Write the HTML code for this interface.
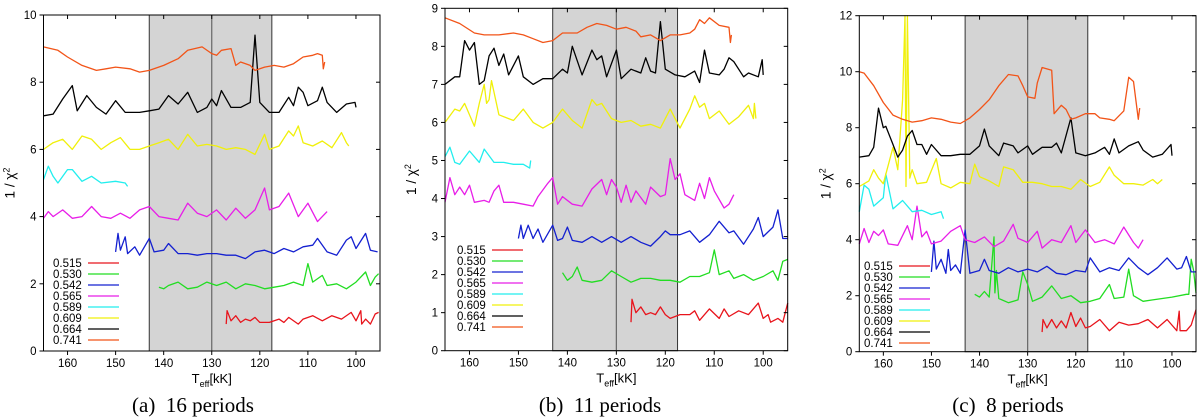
<!DOCTYPE html>
<html><head><meta charset="utf-8">
<style>
html,body{margin:0;padding:0;background:#fff;width:1200px;height:419px;overflow:hidden}
svg{display:block}
text{font-family:"Liberation Sans",sans-serif}
.cap{font-family:"Liberation Serif",serif;font-size:21px;white-space:pre}
</style></head>
<body>
<svg id="fig" width="1200" height="419" viewBox="0 0 1200 419" xmlns="http://www.w3.org/2000/svg"></svg>
<script>
// ---------- data ----------
const masses = ["0.515","0.530","0.542","0.565","0.589","0.609","0.664","0.741"];
const colors = ["#e8141c","#22dd22","#1420d0","#e81ee8","#22eeee","#f0f00a","#000000","#f25418"];
const xTicks = [160,150,140,130,120,110,100];
const shadeRange = [143,117.5];
const midLine = 130;

// panel a (16 periods)
const a515T=[127,126.8,126,125,124,123,122,121,120,118,116,115,114,112,111,109,107,105,103,101,100,99,98.8,98,97,96,95.3];
const a515V=[0.8,1.2,0.9,1.05,0.85,0.95,0.9,1.0,0.85,0.85,0.95,0.85,1.0,0.8,0.95,1.05,0.9,1.05,0.95,1.15,0.9,1.2,0.8,0.95,0.8,1.1,1.15];
const a530T=[141,140,139,137,135,133,131,129,127,125,123,121,119,117,115,113,111,110,109,107,106,104,102,100,98,97,96,95.3];
const a530V=[1.9,1.85,1.95,2.05,1.85,1.9,2.05,1.95,2.05,1.85,2.0,1.95,1.85,1.9,1.95,2.05,1.95,2.6,2.05,2.25,1.95,2.0,1.85,2.05,2.35,1.95,2.2,2.3];
const a542T=[150,149.5,149,148,147.5,146,145,143,142,140,139,137,135,133,131,129,127,125,123,121,119,117,115,113,111,109,108,106,104,102,101,100,98,97,95.5];
const a542V=[2.95,3.5,3.0,3.4,2.9,3.1,2.85,3.35,2.95,3.0,3.2,2.9,2.9,2.85,2.9,2.9,2.85,2.85,2.75,2.95,3.0,2.9,3.05,2.95,3.1,3.15,3.35,2.95,2.85,3.3,3.4,3.05,3.5,3.0,2.95];
const a565T=[165,164,163,161,159,157,155,153,151,149,147,145,143,141,139,137,135,133,131,129,127,125,123,121,119,118,116,114,112,110,108,106];
const a565V=[3.95,4.15,4.0,4.2,3.95,4.0,4.3,4.0,3.95,4.1,3.95,4.2,4.3,4.0,3.95,3.9,4.4,4.1,4.0,4.2,3.9,4.25,3.95,4.2,4.85,4.2,4.3,4.7,4.0,4.4,3.85,4.15];
const a589T=[165,164,163,162,160,159,157,155,153,150,148,147.5];
const a589V=[5.1,5.5,5.2,5.0,5.4,5.4,5.05,5.2,5.0,5.05,5.0,4.9];
const a609T=[165,163,161,159,157,155,153,151,149,147,145,143,141,139,137,135,133,131,129,127,125,123,121,119,118,116,114,113,112,111,109,107,105,103,102,101.5];
const a609V=[6.0,6.2,6.3,6.0,6.4,6.3,6.0,6.2,6.35,6.0,6.0,6.1,6.2,6.3,6.0,6.45,6.1,6.15,6.1,6.0,6.05,6.0,5.85,6.45,6.0,6.1,6.55,6.4,6.7,6.2,6.1,6.25,6.05,6.5,6.2,6.1];
const a664T=[165,163,161,159,158,156,154,152,150,148,145,143,141,139,137,135,133,131,130,129,128,126,124,122,121,120,118,116,114,113,112,111,110,108,107,106,104,102,100.2,100];
const a664V=[7.0,7.05,7.5,7.9,7.15,7.6,7.25,7.05,7.45,7.1,7.1,7.15,7.2,7.6,7.35,7.7,7.1,7.25,7.5,7.3,7.75,7.25,7.25,7.4,9.4,7.4,7.1,7.1,7.55,7.3,7.85,7.7,7.3,7.45,7.85,7.4,7.1,7.35,7.4,7.25];
const a741T=[165,162,160,157,154,152,150,147,145,143,140,137,135,132,130,129,128,126,125,124,122,121,119,117,115,113,111,109,108,107,106.8,106.5];
const a741V=[9.05,8.95,8.75,8.5,8.35,8.4,8.45,8.4,8.3,8.35,8.5,8.7,8.95,9.05,8.85,8.8,8.95,9.0,8.5,8.6,8.5,8.35,8.45,8.5,8.45,8.55,8.75,8.8,8.85,8.8,8.4,8.6];

// panel b (11 periods)
const b515T=[127,126.8,126,125,124,123,122,121,120,119,117,115,114,113,111,109,108,107,105,103,101,100,99,98.5,97,96,95];
const b515V=[0.75,1.35,1.0,1.15,0.95,1.0,0.95,1.15,0.95,0.85,0.95,0.95,1.05,0.8,1.1,0.85,1.1,0.9,1.05,0.95,1.25,0.85,0.95,0.75,0.85,0.75,1.25];
const b530T=[141,140,139,138,137,135,133,131,129,127,125,123,121,119,117,115,113,111,110,109,107,106,104,102,100,98,97,96,95];
const b530V=[2.05,1.85,1.95,2.2,1.85,1.8,1.85,2.1,1.95,1.8,1.9,1.9,1.85,1.85,1.8,1.95,1.95,2.05,2.65,2.0,2.1,1.9,2.0,1.85,1.95,2.1,1.85,2.35,2.4];
const b542T=[150,149.5,149,148,147,146,145,143,142,141,140,139,137,135,133,131,129,127,125,123,121,120,119,117,115,113,111,109,107,106,104,102,101,100,98,97,96,95];
const b542V=[2.95,3.3,2.95,3.3,2.95,3.2,2.85,3.3,2.9,2.95,3.25,2.9,2.85,3.0,2.85,3.0,2.85,3.0,2.85,2.75,3.0,3.15,3.05,3.05,3.15,2.85,3.05,3.4,3.1,3.15,2.8,3.2,3.5,3.0,3.25,3.7,2.95,2.95];
const b565T=[165,164,163,162,161,160,159,157,156,155,154,153,151,149,147,146,144,143,142,141,139,137,135,133,132,131,130,129,128,127,126,124,123,121,120,119,118,117,116,114,113,112,111,110,108,107,106];
const b565V=[3.9,4.55,4.1,4.3,4.1,4.35,3.9,3.95,3.9,4.2,4.35,3.9,3.9,3.85,3.8,4.05,4.4,4.55,3.85,4.05,3.85,3.8,4.25,4.5,4.1,4.5,4.3,3.9,4.35,3.9,4.2,3.85,4.3,4.05,4.1,5.05,4.5,4.65,4.1,3.95,4.4,4.0,4.55,4.2,3.75,3.85,4.1];
const b589T=[165,164,163,162,160,158,157,155,153,151,149,147.7,147.5];
const b589V=[5.1,5.35,4.95,4.9,5.25,4.95,5.3,4.95,4.95,4.9,4.9,4.8,5.0];
const b609T=[165,163,162,161,159,158,157,156.5,156,155.5,154,152,151,149,147,145,143,141,139,137,135,134,133,131,129,127,125,123,121,119,117,115,114,113,112,111,109,107,105,103,102,101.8,101.5];
const b609V=[6.0,6.35,6.3,6.5,5.9,6.5,7.0,6.5,6.6,7.1,6.2,6.1,6.05,6.35,6.0,5.85,6.0,6.35,6.05,5.85,6.6,6.45,6.5,6.1,6.0,6.05,5.9,5.95,5.85,6.35,5.85,6.35,6.7,6.4,6.5,6.1,6.3,5.95,6.15,6.45,6.1,6.5,6.1];
const b664T=[165,163,162,161,160,159,158,157,156,155,154,153,152,150,149,147,145,143,141,140,139,137,135,134,133,132,130,129,127,125,124,123,122,121,120,118,116,114,113,112,111,109,108,107,106,104,103,101,100.2,100];
const b664V=[7.0,7.2,7.2,8.15,7.9,8.1,7.0,7.1,7.75,7.95,7.5,7.8,7.25,7.75,7.2,7.0,7.15,7.15,7.4,7.3,8.0,7.25,7.9,7.65,7.75,7.2,7.9,7.15,7.4,7.3,7.7,7.35,7.3,8.65,7.4,7.25,7.2,7.35,7.05,7.9,7.3,7.25,7.4,7.7,7.6,7.2,7.3,7.2,7.65,7.25];
const b741T=[165,162,159,157,154,151,149,147,145,143,141,138,136,134,132,130,128,126,125,123,121,119,117,115,114,113,112,111,109,107,106.7,106.5];
const b741V=[8.75,8.6,8.35,8.3,8.3,8.35,8.3,8.2,8.1,8.15,8.35,8.35,8.5,8.6,8.55,8.45,8.5,8.4,8.25,8.3,8.15,8.3,8.3,8.35,8.45,8.7,8.6,8.75,8.55,8.5,8.1,8.3];

// panel c (8 periods)
const c515T=[127,126.8,126,125,124,123,122,121,120,119,118,117,115,113,111,109,107,105,103,101,99,98.5,98.3,97,96,95];
const c515V=[0.7,1.15,0.85,1.15,0.85,1.1,0.85,1.4,0.9,1.2,0.85,0.9,1.15,0.75,1.05,0.95,1.0,1.15,0.85,1.15,0.75,1.45,0.75,0.75,0.95,1.5];
const c530T=[141,140,139,138,137,136.8,136.5,136,134,132,131,130,129,127,125,123,121,119,117,115,113,112,110,109,108,106,104,102,100,97,96.5,96,95.5,95];
const c530V=[2.05,1.95,2.15,1.95,4.1,2.1,2.9,1.9,1.75,1.85,2.85,2.4,1.8,1.95,2.35,1.9,2.0,1.75,1.8,1.9,2.4,1.9,1.95,2.95,2.0,1.8,1.85,1.9,1.95,2.05,2.05,3.3,2.9,2.1];
const c542T=[150,149.5,149,148,147,146.5,146,145,144,143,142,140,139,138,136,134,132,130,128,126,124,122,120,118,117,115,113,111,109,107,105,103,101,99,98,97,96,95];
const c542V=[2.85,3.95,2.95,3.3,2.8,3.65,2.9,3.1,2.8,4.35,2.8,2.9,3.3,2.9,2.8,3.0,2.85,2.95,2.85,3.05,2.8,2.75,2.9,2.85,3.35,2.85,3.0,2.9,3.35,3.0,2.75,3.0,3.35,2.95,3.0,3.4,2.85,2.85];
const c565T=[165,164,163,162,161,160,159,157,155,154,153,152,151,150,148,146,144,143,141,139,137,135,133,132,130,128,127,125,123,121,120,118,116,114,112,110,108,107,106];
const c565V=[3.85,4.4,3.9,4.3,4.15,4.35,3.85,3.8,4.5,4.0,5.2,4.1,4.3,3.85,3.95,4.3,4.5,4.0,3.9,4.1,3.75,3.95,4.55,4.05,3.9,4.3,3.7,4.0,3.9,4.5,3.9,4.35,3.9,4.0,3.85,4.45,3.9,3.7,4.0];
const c589T=[165,164,163,162,160,159.5,158,156,154,152,150,148,147.5];
const c589V=[5.0,5.95,5.8,5.2,5.5,6.35,5.1,5.4,5.0,5.05,4.9,5.0,4.75];
const c609T=[165,163,162,161,160,158,157,156,155.5,155.3,155,154.5,154,153,151,149,148,146,144,142,141,140,138,136,135,133,131,129,127,125,123,121,119,117,115,113,112,110,108,106,104,103,102];
const c609V=[5.9,6.1,6.5,6.2,6.0,7.3,6.5,9.0,12,5.9,12,6.2,6.5,6.0,6.05,6.9,6.0,5.85,6.05,6.0,6.7,6.25,6.1,5.9,6.6,6.5,6.05,6.05,6.0,5.9,5.9,5.8,6.15,5.9,6.05,6.6,6.3,6.0,6.0,5.95,6.15,6.0,6.15];
const c664T=[165,163,162,161,160,159.5,158,157,156,155,154,153,152,151,150,148,146,144,142,140,139,138,136,135,133,132,130,129,127,125,124,123,121,120,118,116,114,113,112,111,109,107,106,104,102,100.2,100];
const c664V=[6.95,7.0,7.3,8.7,8.0,8.05,7.4,6.95,7.2,7.7,7.9,7.4,7.4,7.05,7.4,7.0,7.0,7.05,7.05,7.35,7.95,7.35,7.0,7.45,7.35,7.1,7.35,7.05,7.3,7.3,7.45,7.1,8.35,7.1,7.0,7.1,7.3,7.05,7.6,7.1,7.35,7.5,7.2,6.95,7.05,7.4,7.0];
const c741T=[165,164,162,160,158,156,154,152,150,148,146,144,142,140,138,136,134,132,131,130,128.5,128,127,126,125,124.5,123,122,121,120,118,116,115,113,112,110,109,108,107,106.7];
const c741V=[10.0,9.95,9.5,8.9,8.45,8.3,8.2,8.25,8.35,8.3,8.2,8.15,8.35,8.65,9.0,9.5,9.9,9.85,9.5,9.1,9.05,9.6,10.15,10.1,10.05,8.5,8.8,8.65,8.3,8.35,8.5,8.5,8.35,8.3,8.25,8.6,9.8,9.65,8.3,8.7];

const yTicksA=[0,2,4,6,8,10];
const yTicksB=[0,1,2,3,4,5,6,7,8,9];
const yTicksC=[0,2,4,6,8,10,12];

// ---------- drawing ----------
const NS="http://www.w3.org/2000/svg";
const svg=document.getElementById("fig");
function mk(tag,attrs,parent){const e=document.createElementNS(NS,tag);for(const k in attrs)e.setAttribute(k,attrs[k]);(parent||svg).appendChild(e);return e;}

function drawPanel(p){
  const g=mk("g",{});
  
  
  const sx=t=>p.L+(165-t)/(165-95)*(p.R-p.L);
  const sy=v=>p.B-(v/p.ymax)*(p.B-p.T);
  const sh=mk("rect",{x:sx(shadeRange[0]),y:p.T,width:sx(shadeRange[1])-sx(shadeRange[0]),height:p.B-p.T,fill:"#d4d4d4",stroke:"#333","stroke-width":1},g);
  
  
  const ml=mk("line",{x1:sx(midLine),x2:sx(midLine),y1:p.T,y2:p.B,stroke:"#666","stroke-width":1.2},g);
  
  
  p.series.forEach((s,i)=>{
    const pts=s[0].map((t,j)=>sx(t).toFixed(1)+","+sy(s[1][j]).toFixed(1)).join(" ");
    const pl=mk("polyline",{points:pts,fill:"none",stroke:colors[i],"stroke-width":1.3,"stroke-linejoin":"round"},g);
    
    
  });
  const fr=mk("rect",{x:p.L,y:p.T,width:p.R-p.L,height:p.B-p.T,fill:"none",stroke:"#000","stroke-width":1},g);
  
  
  xTicks.forEach(t=>{
    const x=sx(t);
    mk("line",{x1:x,x2:x,y1:p.B,y2:p.B+4,stroke:"#000"},g);
    mk("line",{x1:x,x2:x,y1:p.T,y2:p.T+4,stroke:"#000"},g);
    const tx=mk("text",{x:x,y:p.B+16,"font-size":11.5,"text-anchor":"middle"},g);
    tx.textContent=t;
    
    
  });
  p.yTicks.forEach(v=>{
    const y=sy(v);
    mk("line",{x1:p.L-4,x2:p.L,y1:y,y2:y,stroke:"#000"},g);
    mk("line",{x1:p.R-4,x2:p.R,y1:y,y2:y,stroke:"#000"},g);
    const tx=mk("text",{x:p.L-7,y:y+4,"font-size":11.5,"text-anchor":"end"},g);
    tx.textContent=v;
    
    
  });
  const xt=mk("text",{x:(p.L+p.R)/2,y:p.B+32,"font-size":13,"text-anchor":"middle"},g);
  xt.innerHTML='T<tspan font-size="9" dy="4">eff</tspan><tspan dy="-4">[kK]</tspan>';
  
  
  const yx=p.L-29, yy=(p.T+p.B)/2;
  const yt=mk("text",{x:yx,y:yy,"font-size":13.5,"text-anchor":"middle",transform:`rotate(-90 ${yx} ${yy})`},g);
  yt.innerHTML='1 / χ<tspan font-size="9" dy="-5">2</tspan>';
  
  
  const lg=mk("g",{},g);
  
  
  masses.forEach((m,i)=>{
    const y=p.legY+i*11;
    const t=mk("text",{x:p.legX,y:y+4,"font-size":11.5},lg);
    t.textContent=m;
    
    
    mk("line",{x1:p.legX+35,x2:p.legX+66,y1:y,y2:y,stroke:colors[i],"stroke-width":1.3},lg);
  });
  const cap=mk("text",{x:p.capX,y:412,"class":"cap","text-anchor":"middle"},g);
  cap.textContent=p.caption;
  
  
}

drawPanel({id:"a",L:43.5,R:380,T:15,B:351,ymax:10,yTicks:yTicksA,legX:53,legY:263,capX:193,caption:"(a)  16 periods",
  series:[[a515T,a515V],[a530T,a530V],[a542T,a542V],[a565T,a565V],[a589T,a589V],[a609T,a609V],[a664T,a664V],[a741T,a741V]]});
drawPanel({id:"b",L:445,R:787.7,T:8.3,B:350.7,ymax:9,yTicks:yTicksB,legX:457,legY:250,capX:600,caption:"(b)  11 periods",
  series:[[b515T,b515V],[b530T,b530V],[b542T,b542V],[b565T,b565V],[b589T,b589V],[b609T,b609V],[b664T,b664V],[b741T,b741V]]});
drawPanel({id:"c",L:859.3,R:1196,T:15.7,B:351.7,ymax:12,yTicks:yTicksC,legX:864,legY:266,capX:1008,caption:"(c)  8 periods",
  series:[[c515T,c515V],[c530T,c530V],[c542T,c542V],[c565T,c565V],[c589T,c589V],[c609T,c609V],[c664T,c664V],[c741T,c741V]]});
</script>
</body></html>
